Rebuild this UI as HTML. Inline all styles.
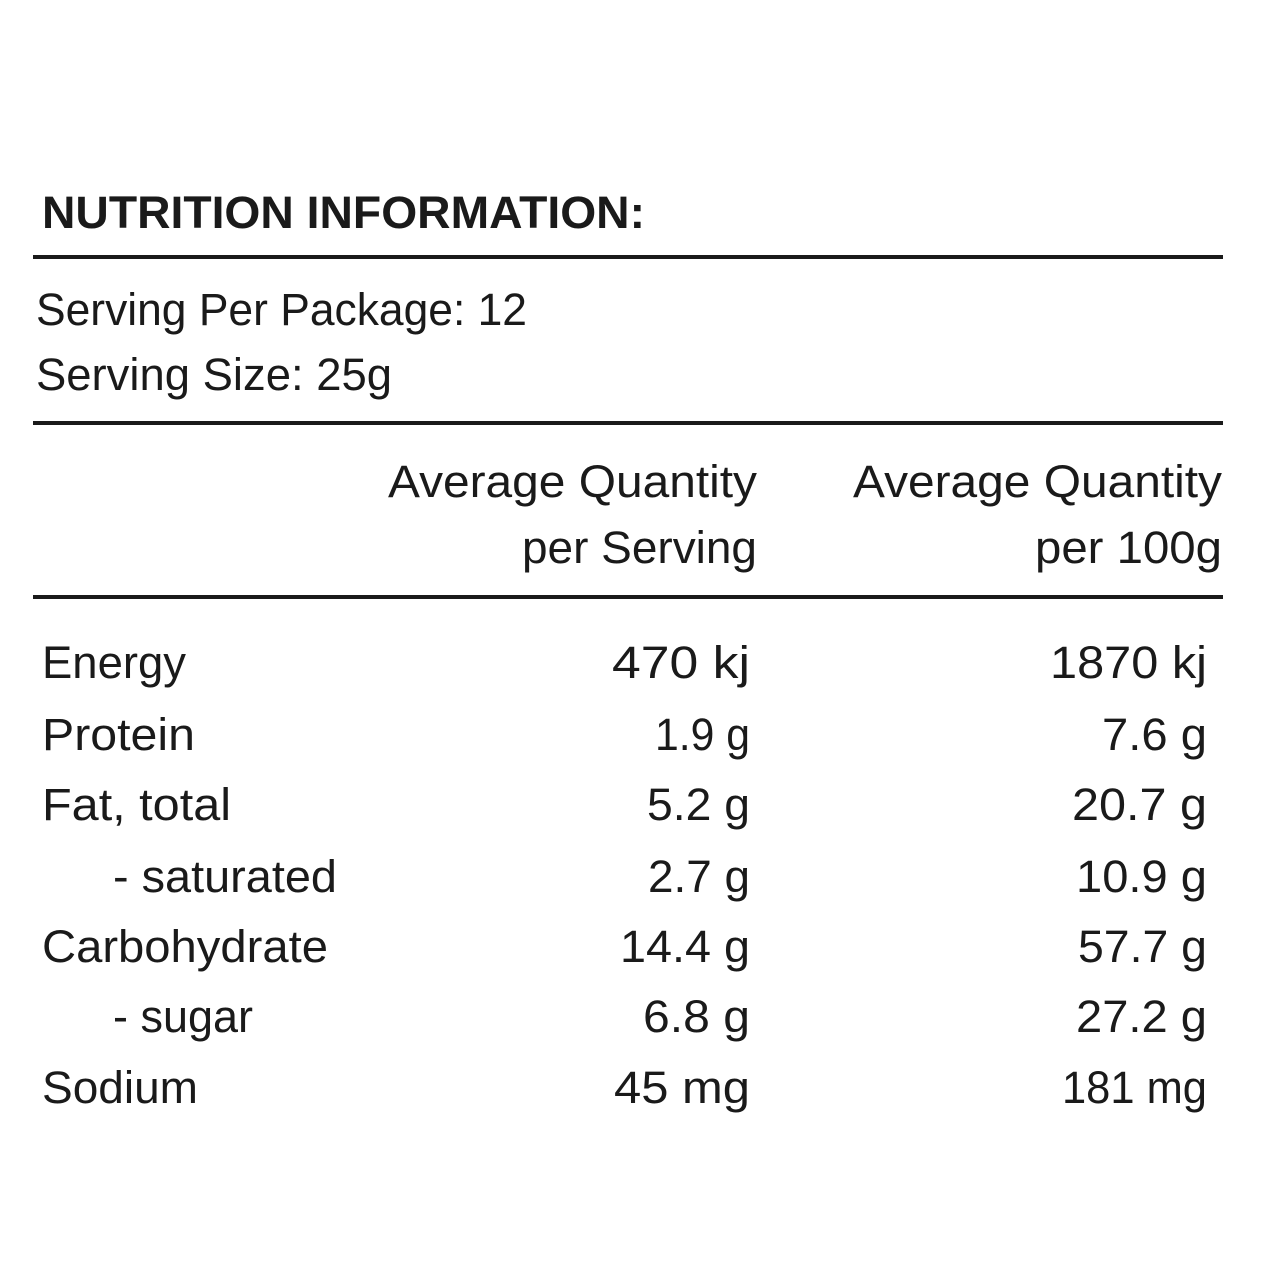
<!DOCTYPE html>
<html><head><meta charset="utf-8"><style>
html,body{margin:0;padding:0;background:#fff;}
svg{display:block;}
text{font-family:"Liberation Sans",sans-serif;fill:#1a1a1a;font-size:45px;}
</style></head><body>
<svg width="1280" height="1280" viewBox="0 0 1280 1280" xmlns="http://www.w3.org/2000/svg">
<rect width="1280" height="1280" fill="#fff"/>
<text x="42" y="228" font-weight="bold" font-size="42" textLength="603" lengthAdjust="spacingAndGlyphs">NUTRITION INFORMATION:</text>
<rect x="33" y="255" width="1190" height="4" fill="#1a1a1a"/>
<text x="36" y="325" textLength="491" lengthAdjust="spacingAndGlyphs">Serving Per Package: 12</text>
<text x="36" y="390" textLength="356" lengthAdjust="spacingAndGlyphs">Serving Size: 25g</text>
<rect x="33" y="421" width="1190" height="4" fill="#1a1a1a"/>
<text x="388" y="497" textLength="369" lengthAdjust="spacingAndGlyphs">Average Quantity</text>
<text x="522" y="563" textLength="235" lengthAdjust="spacingAndGlyphs">per Serving</text>
<text x="853" y="497" textLength="369" lengthAdjust="spacingAndGlyphs">Average Quantity</text>
<text x="1035" y="563" textLength="187" lengthAdjust="spacingAndGlyphs">per 100g</text>
<rect x="33" y="595" width="1190" height="4" fill="#1a1a1a"/>

<text x="42" y="678" textLength="144" lengthAdjust="spacingAndGlyphs">Energy</text>
<text x="612" y="678" textLength="138" lengthAdjust="spacingAndGlyphs">470 kj</text>
<text x="1050" y="678" textLength="157" lengthAdjust="spacingAndGlyphs">1870 kj</text>

<text x="42" y="750" textLength="153" lengthAdjust="spacingAndGlyphs">Protein</text>
<text x="655" y="750" textLength="95" lengthAdjust="spacingAndGlyphs">1.9 g</text>
<text x="1102" y="750" textLength="105" lengthAdjust="spacingAndGlyphs">7.6 g</text>

<text x="42" y="820" textLength="189" lengthAdjust="spacingAndGlyphs">Fat, total</text>
<text x="647" y="820" textLength="103" lengthAdjust="spacingAndGlyphs">5.2 g</text>
<text x="1072" y="820" textLength="135" lengthAdjust="spacingAndGlyphs">20.7 g</text>

<text x="113" y="892" textLength="224" lengthAdjust="spacingAndGlyphs">- saturated</text>
<text x="648" y="892" textLength="102" lengthAdjust="spacingAndGlyphs">2.7 g</text>
<text x="1076" y="892" textLength="131" lengthAdjust="spacingAndGlyphs">10.9 g</text>

<text x="42" y="962" textLength="286" lengthAdjust="spacingAndGlyphs">Carbohydrate</text>
<text x="620" y="962" textLength="130" lengthAdjust="spacingAndGlyphs">14.4 g</text>
<text x="1078" y="962" textLength="129" lengthAdjust="spacingAndGlyphs">57.7 g</text>

<text x="113" y="1032" textLength="140" lengthAdjust="spacingAndGlyphs">- sugar</text>
<text x="643" y="1032" textLength="107" lengthAdjust="spacingAndGlyphs">6.8 g</text>
<text x="1076" y="1032" textLength="131" lengthAdjust="spacingAndGlyphs">27.2 g</text>

<text x="42" y="1103" textLength="156" lengthAdjust="spacingAndGlyphs">Sodium</text>
<text x="614" y="1103" textLength="136" lengthAdjust="spacingAndGlyphs">45 mg</text>
<text x="1062" y="1103" textLength="145" lengthAdjust="spacingAndGlyphs">181 mg</text>
</svg>
</body></html>
